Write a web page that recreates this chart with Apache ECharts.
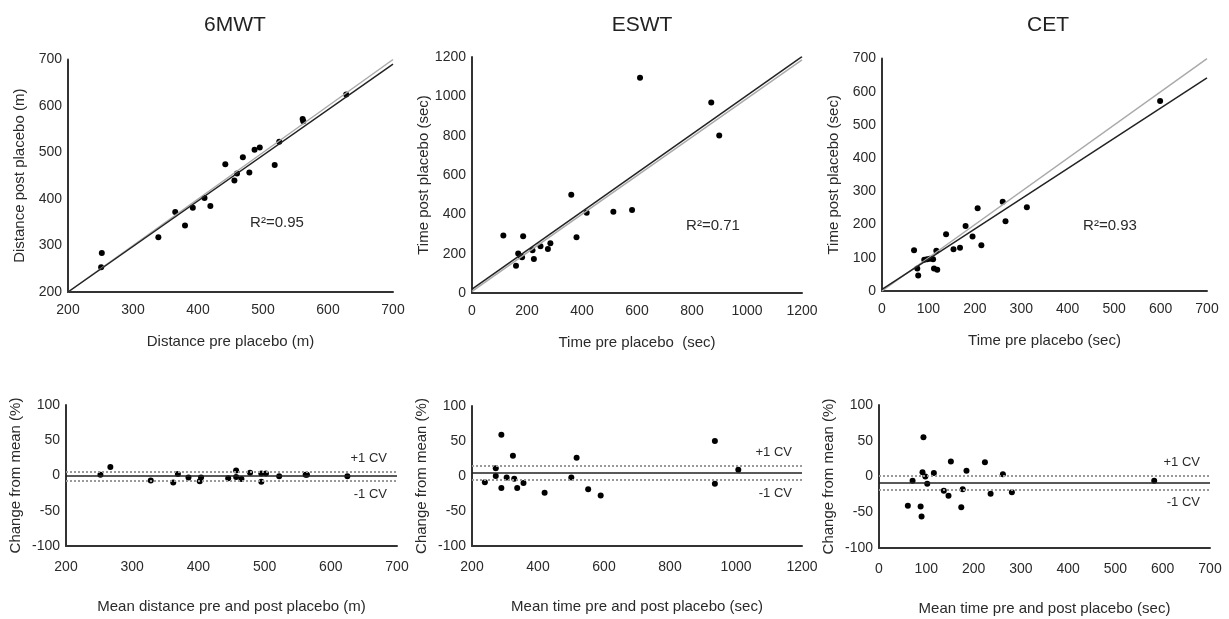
<!DOCTYPE html>
<html lang="en" style="height: 100%">
<head>
<meta charset="utf-8">
<title>Placebo repeatability</title>
</head>
<body style="height: 100%; margin: 0; background: #fff">
<div id="container" style="height: 100%"></div>

<script type="text/javascript" src="https://cdn.jsdelivr.net/npm/echarts@6/dist/echarts.min.js"></script>

<script type="text/javascript">
var dom = document.getElementById('container');
var myChart = echarts.init(dom, null, { renderer: 'canvas' });

// ---- data ----
var panelTitles = ['6MWT', 'ESWT', 'CET'];
var r2Labels = ['R\u00b2=0.95', 'R\u00b2=0.71', 'R\u00b2=0.93'];

// top row: pre vs post placebo
var mwtPrePost = [
    [252, 284], [251, 253], [339, 318], [365, 372], [380, 343], [392, 381],
    [410, 402], [419, 385], [442, 475], [456, 440], [460, 455], [469, 490],
    [479, 457], [487, 506], [495, 511], [518, 473], [525, 523], [561, 572],
    [562, 567], [628, 625]
];
var eswtPrePost = [
    [114, 293], [160, 139], [168, 201], [177, 187], [182, 182], [186, 289],
    [220, 218], [225, 173], [249, 238], [276, 224], [285, 253], [361, 500],
    [380, 284], [417, 408], [514, 413], [582, 422], [611, 1094], [870, 969],
    [899, 801]
];
var cetPrePost = [
    [69, 123], [76, 68], [78, 47], [91, 94], [97, 96], [103, 97], [110, 96],
    [112, 68], [119, 64], [117, 121], [138, 171], [154, 126], [168, 130],
    [180, 196], [195, 164], [206, 249], [214, 138], [260, 269], [266, 210],
    [312, 252], [599, 572]
];
// regression (black) and identity (grey) lines, end points
var mwtFit = [[200, 200], [700, 690]];
var mwtIdentity = [[200, 200], [700, 700]];
var eswtFit = [[0, 20], [1200, 1202]];
var eswtIdentity = [[0, 8], [1200, 1185]];
var cetFit = [[0, 5], [700, 642]];
var cetIdentity = [[0, 0], [700, 700]];

// bottom row: change from mean vs mean
var mwtChange = [
    [252, 1], [267, 12], [328, -7], [362, -10], [369, 2], [385, -3],
    [402, -8], [404, -3], [445, -4], [457, 7], [457, -2], [465, -5],
    [478, 4], [495, 3], [495, -9], [502, 3], [522, -1], [562, 1],
    [564, 1], [625, -1]
];
var eswtChange = [
    [239, -9], [272, 11], [272, 0], [289, 59], [289, -17], [305, -2],
    [324, 29], [328, -4], [337, -17], [356, -10], [420, -24], [501, -2],
    [517, 26], [552, -19], [590, -28], [936, 50], [936, -11], [1007, 9]
];
var cetChange = [
    [61, -41], [71, -6], [88, -42], [90, -56], [92, 6], [94, 55], [98, 0],
    [102, -10], [116, 5], [137, -20], [147, -27], [152, 21], [174, -43],
    [177, -18], [185, 8], [224, 20], [236, -24], [262, 3], [281, -22],
    [582, -6]
];
// mean difference, +1 CV, -1 CV
var mwtBands = [-1, 5, -7];
var eswtBands = [5, 15, -6];
var cetBands = [-9, 1, -18];

// axis ranges [min, max, interval]
var topX = [[200, 700, 100], [0, 1200, 200], [0, 700, 100]];
var topY = [[200, 700, 100], [0, 1200, 200], [0, 700, 100]];
var botX = [[200, 700, 100], [200, 1200, 200], [0, 700, 100]];
var botY = [-100, 100, 50];

var topXNames = ['Distance pre placebo (m)', 'Time pre placebo  (sec)', 'Time pre placebo (sec)'];
var topYNames = ['Distance post placebo (m)', 'Time post placebo (sec)', 'Time post placebo (sec)'];
var botXNames = ['Mean distance pre and post placebo (m)', 'Mean time pre and post placebo (sec)', 'Mean time pre and post placebo (sec)'];
var botYName = 'Change from mean (%)';

// ---- layout ----
var FONT = "'Liberation Sans', Arial, sans-serif";
var TXT = '#2a2a2a';
var grids = [
    { left: 68, top: 59.5, width: 325, height: 232.5 },
    { left: 472, top: 57, width: 330, height: 236 },
    { left: 882, top: 58.6, width: 325, height: 232.4 },
    { left: 66, top: 405, width: 331, height: 141 },
    { left: 472, top: 406, width: 330, height: 140 },
    { left: 879, top: 405, width: 331, height: 143 }
];

function axis(idx, range, name, isX, top) {
    return {
        type: 'value',
        gridIndex: idx,
        min: range[0],
        max: range[1],
        interval: range[2],
        name: name,
        nameLocation: 'middle',
        nameGap: isX ? (top ? 42 : 53) : (top ? 41 : 43),
        nameTextStyle: { fontFamily: FONT, fontSize: 15, color: TXT },
        axisLine: { show: true, onZero: false, lineStyle: { color: '#333', width: 2 } },
        axisTick: { show: false },
        splitLine: { show: false },
        axisLabel: {
            fontFamily: FONT, fontSize: 14, color: TXT,
            margin: isX ? (top ? 11 : 14) : 6,
            formatter: function (v) { return String(v); }
        }
    };
}

var xAxes = [], yAxes = [];
for (var i = 0; i < 3; i++) {
    xAxes.push(axis(i, topX[i], topXNames[i], true, true));
    yAxes.push(axis(i, topY[i], topYNames[i], false, true));
}
for (var j = 0; j < 3; j++) {
    xAxes.push(axis(j + 3, botX[j], botXNames[j], true, false));
    yAxes.push(axis(j + 3, botY, botYName, false, false));
}

var topPoints = [mwtPrePost, eswtPrePost, cetPrePost];
var topFits = [mwtFit, eswtFit, cetFit];
var topIds = [mwtIdentity, eswtIdentity, cetIdentity];
var botPoints = [mwtChange, eswtChange, cetChange];
var botBands = [mwtBands, eswtBands, cetBands];

var dot = { color: '#000', opacity: 1 };
var series = [];
for (var k = 0; k < 3; k++) {
    series.push({
        type: 'line', xAxisIndex: k, yAxisIndex: k, data: topIds[k],
        symbol: 'none', silent: true,
        lineStyle: { color: '#aaa', width: 1.5 }
    });
    series.push({
        type: 'line', xAxisIndex: k, yAxisIndex: k, data: topFits[k],
        symbol: 'none', silent: true,
        lineStyle: { color: '#222', width: 1.5 }
    });
    series.push({
        type: 'scatter', xAxisIndex: k, yAxisIndex: k, data: topPoints[k],
        symbolSize: 6, itemStyle: dot
    });
}
for (var m = 0; m < 3; m++) {
    var b = botBands[m];
    var cvLabel = { fontFamily: FONT, fontSize: 13, color: TXT };
    series.push({
        type: 'scatter', xAxisIndex: m + 3, yAxisIndex: m + 3, data: botPoints[m],
        symbolSize: 6, itemStyle: dot,
        markLine: {
            silent: true,
            symbol: 'none',
            animation: false,
            data: [
                { yAxis: b[0], lineStyle: { color: '#222', width: 1.5, type: 'solid' }, label: { show: false } },
                { yAxis: b[1], lineStyle: { color: '#999', width: 2, type: 'dotted' },
                  label: Object.assign({ show: true, position: 'insideEndTop', distance: [10, 7], formatter: '+1 CV' }, cvLabel) },
                { yAxis: b[2], lineStyle: { color: '#999', width: 2, type: 'dotted' },
                  label: Object.assign({ show: true, position: 'insideEndBottom', distance: [10, 7], formatter: '-1 CV' }, cvLabel) }
            ]
        }
    });
}

var titleX = [230, 637, 1043];
var r2Pos = [[277, 223], [713, 226], [1110, 226]];

var option = {
    animation: false,
    backgroundColor: '#fff',
    title: titleX.map(function (x, i) {
        return {
            text: panelTitles[i], left: x, top: 10, textAlign: 'center',
            textStyle: { fontFamily: FONT, fontSize: 21, fontWeight: 'normal', color: '#222' }
        };
    }),
    graphic: r2Pos.map(function (p, i) {
        return {
            type: 'text', x: p[0], y: p[1],
            style: {
                text: r2Labels[i], fill: TXT, font: '15px ' + FONT,
                textAlign: 'center', textVerticalAlign: 'middle'
            }
        };
    }),
    grid: grids,
    xAxis: xAxes,
    yAxis: yAxes,
    series: series
};

myChart.setOption(option);
window.addEventListener('resize', myChart.resize);
</script>
</body>
</html>
